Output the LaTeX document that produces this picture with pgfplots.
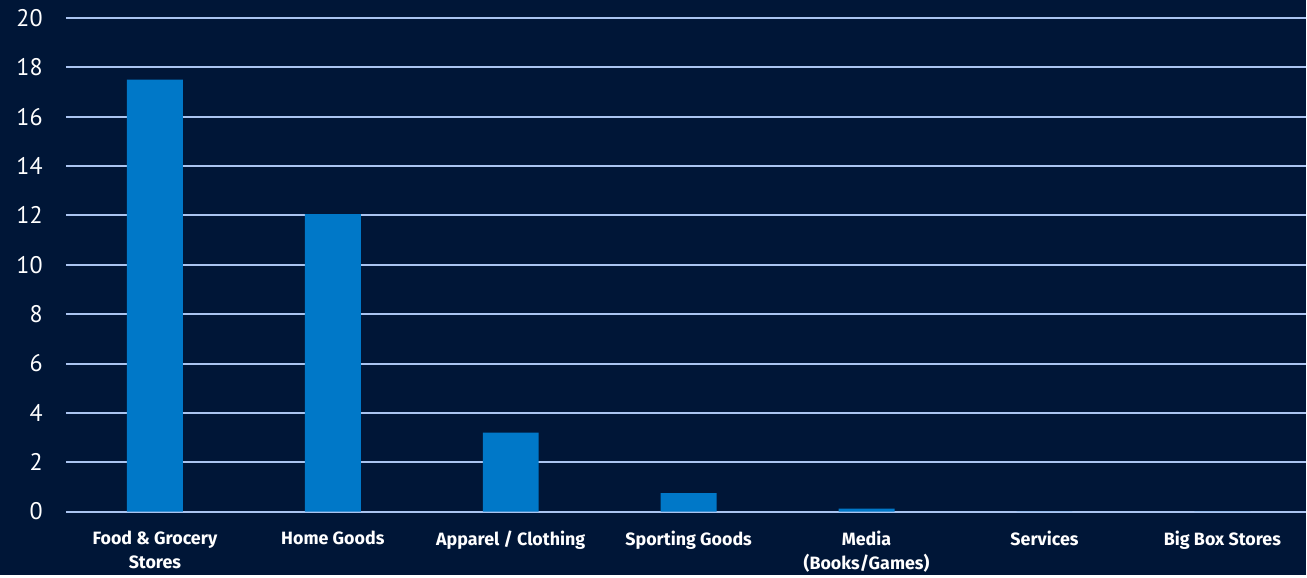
\documentclass[border=0pt]{standalone}
\usepackage{pgfplots}
\pgfplotsset{compat=1.18}
\usepackage{fontspec}
\setmainfont{PT Sans}
\newfontfamily\lblfont{Fira Sans}
\definecolor{bg}{RGB}{0,22,55}
\definecolor{barc}{RGB}{0,120,200}
\definecolor{gridc}{RGB}{170,196,240}
\begin{document}
\begin{tikzpicture}
\fill[bg] (0pt,0pt) rectangle (980.25pt,431.25pt);
\begin{axis}[
  at={(49.5pt,47.25pt)}, anchor=south west,
  scale only axis, width=930.75pt, height=370.5pt,
  xmin=-0.5, xmax=6.47, ymin=0, ymax=20,
  ytick={0,2,...,20}, xtick={0,...,6},
  xticklabels={{Food \& Grocery\\Stores},{Home Goods},{Apparel / Clothing},{Sporting Goods},{Media\\(Books/Games)},{Services},{Big Box Stores}},
  axis line style={draw=none}, major tick style={draw=none},
  ymajorgrids, grid style={gridc, line width=1.5pt},
  /pgf/number format/assume math mode=true,
  xticklabel style={font=\lblfont\bfseries\fontsize{13.4}{18}\selectfont, align=center, text=white, anchor=north, yshift=-7pt},
  yticklabel style={font=\fontsize{18}{20}\selectfont, text=white, xshift=-14pt},
  ybar, bar width=42pt,
]
\addplot[fill=barc, draw=none] coordinates {(0,17.5) (1,12.05) (2,3.2) (3,0.75) (4,0.12) (5,0) (6,0)};
\end{axis}
\end{tikzpicture}
\end{document}
